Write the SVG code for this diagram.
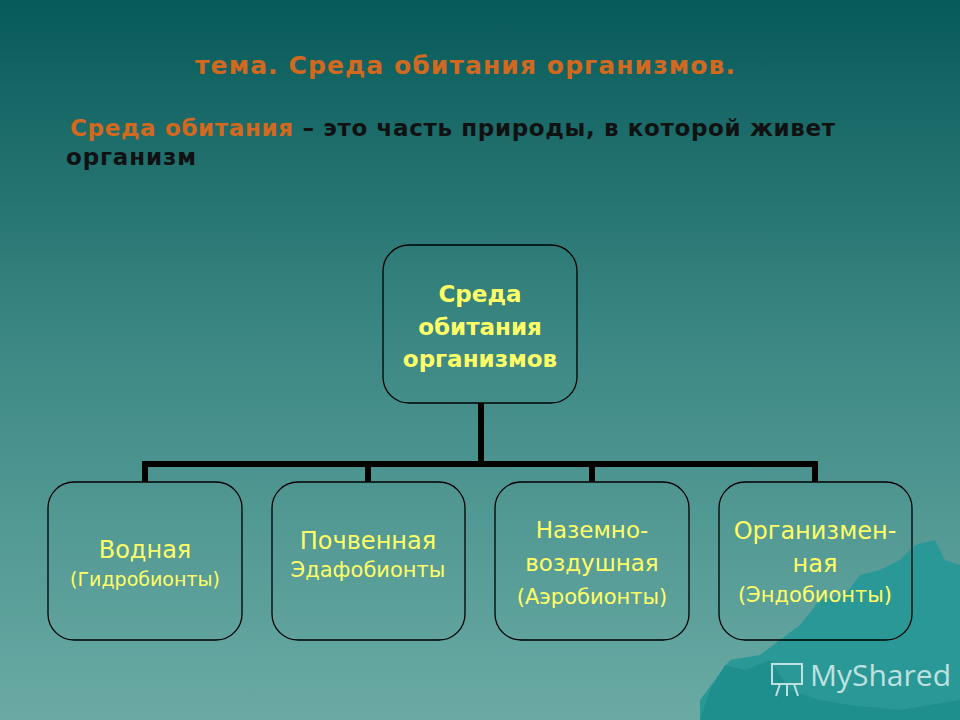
<svg xmlns="http://www.w3.org/2000/svg" width="960" height="720" viewBox="0 0 960 720">
<defs>
<linearGradient id="bg" x1="0" y1="0" x2="0" y2="1">
<stop offset="0" stop-color="#075a5a"/>
<stop offset="0.5" stop-color="#3f8a86"/>
<stop offset="1" stop-color="#6aaaa4"/>
</linearGradient>
<style>
.box{fill:none;stroke:#000;stroke-width:1.3}
.t{font-family:"DejaVu Sans",Verdana,sans-serif;fill:#ffff66;text-anchor:middle}
.c{fill:none;stroke:#000;stroke-width:6}
.h{font-family:"DejaVu Sans",Verdana,sans-serif;font-weight:bold}
</style>
</defs>
<rect width="960" height="720" fill="url(#bg)"/>
<path d="M700,720 L700,700 L730,660 L760,655 L780,640 L800,625 L820,600 L845,595 L860,575 L880,570 L900,560 L915,545 L935,540 L945,560 L960,565 L960,720 Z" fill="#2a9896"/>
<path d="M700,720 L710,690 L725,665 L745,670 L770,660 L790,690 L820,700 L850,705 L900,710 L960,700 L960,720 Z" fill="#1f8f8e"/>
<text class="h" x="195" y="74" font-size="25" fill="#d2691e" textLength="540">тема. Среда обитания организмов.</text>
<text class="h" x="70" y="136" font-size="23" fill="#111" textLength="765"><tspan fill="#d2691e">Среда обитания</tspan> – это часть природы, в которой живет</text>
<text class="h" x="66" y="165" font-size="23" fill="#111" textLength="130">организм</text>
<g id="connectors">
<path class="c" d="M481,403 V464 M145,464 H816 M145,461 V482 M368,461 V482 M592,461 V482 M815,461 V482"/>
</g>
<g id="root"><rect class="box" x="383" y="245" width="194" height="158" rx="26"/>
<text class="t" font-size="23" font-weight="bold"><tspan x="480" y="302">Среда</tspan><tspan x="480" y="335">обитания</tspan><tspan x="480" y="367">организмов</tspan></text></g>
<g id="n1"><rect class="box" x="48" y="482" width="194" height="158" rx="26"/>
<text class="t"><tspan x="145" y="558" font-size="24">Водная</tspan><tspan x="145" y="586" font-size="19">(Гидробионты)</tspan></text></g>
<g id="n2"><rect class="box" x="272" y="482" width="193" height="158" rx="26"/>
<text class="t" font-size="24"><tspan x="368" y="549">Почвенная</tspan><tspan x="368" y="577" font-size="21">Эдафобионты</tspan></text></g>
<g id="n3"><rect class="box" x="495" y="482" width="194" height="158" rx="26"/>
<text class="t" font-size="23"><tspan x="592" y="538">Наземно-</tspan><tspan x="592" y="571">воздушная</tspan><tspan x="592" y="604" font-size="21">(Аэробионты)</tspan></text></g>
<g id="n4"><rect class="box" x="719" y="482" width="193" height="158" rx="26"/>
<text class="t" font-size="24"><tspan x="815" y="539">Организмен-</tspan><tspan x="815" y="572">ная</tspan><tspan x="815" y="602" font-size="21">(Эндобионты)</tspan></text></g>
<text x="810" y="686" font-family="Open Sans,sans-serif" font-size="30" fill="#d8efee" opacity="0.85">MyShared</text>
<g fill="none" stroke="#d8efee" stroke-width="2" opacity="0.85"><rect x="772" y="664" width="30" height="20"/><path d="M780,684 L776,696 M794,684 L798,696 M787,684 V696"/></g>
</svg>
